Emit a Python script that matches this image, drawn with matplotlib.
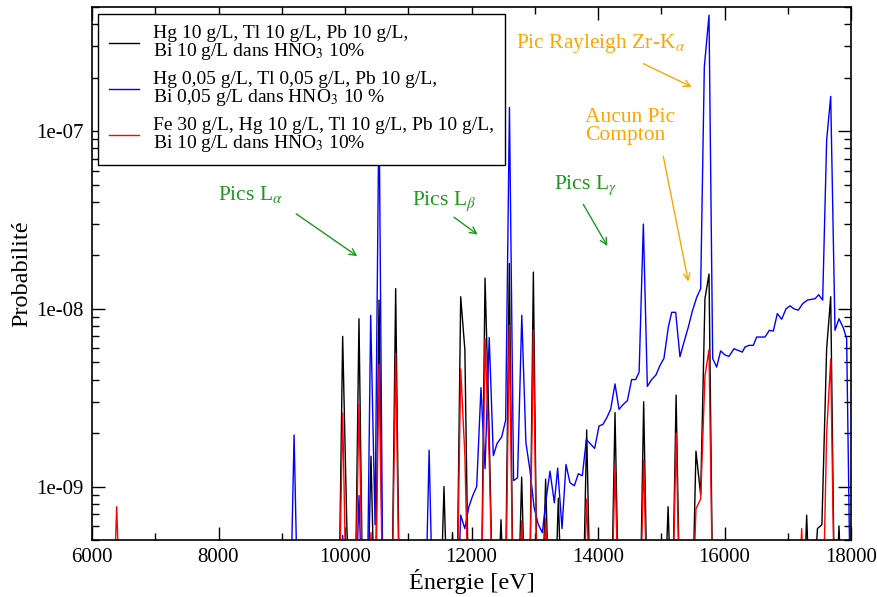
import numpy as np
import matplotlib
matplotlib.use('Agg')
import matplotlib.pyplot as plt
import matplotlib.ticker as ticker

plt.rcParams['font.family'] = 'Liberation Serif'
plt.rcParams['mathtext.fontset'] = 'stix'

# Hg 10 g/L, Tl 10 g/L, Pb 10 g/L, Bi 10 g/L (noir)
# 0 = canal sous le bas de l'axe
e_noir = [9898, 9963, 10029, 10095,
          10156, 10221, 10286,
          10346, 10411, 10475, 10538, 10603,
          10736, 10801, 10866,
          11500, 11565, 11630, 11700, 11764, 11829, 11895, 11960,
          12150, 12214, 12280, 12345,
          12400, 12466, 12530, 12598, 12663,
          12728, 12793, 12858, 12913, 12978, 13043,
          13108, 13172, 13237,
          13308, 13373, 13438,
          13756, 13821, 13886,
          14204, 14269, 14334,
          14660, 14722, 14787,
          15040, 15108, 15170, 15235, 15300,
          15484, 15549, 15623, 15691, 15755, 15820,
          17235, 17299, 17365, 17470, 17540, 17615, 17679, 17745, 17810, 17875]
p_noir = [0, 7.0e-9, 6.0e-10, 0,
          0, 8.8e-9, 0,
          0, 1.48e-9, 0, 1.12e-8, 0,
          0, 1.3e-8, 0,
          0, 1.0e-9, 0, 5.5e-10, 0, 1.17e-8, 5.9e-9, 0,
          0, 1.49e-8, 2.0e-9, 0,
          0, 6.5e-10, 0, 1.8e-8, 0,
          0, 1.13e-9, 0, 0, 1.61e-8, 0,
          0, 1.1e-9, 0,
          0, 8.6e-10, 0,
          0, 2.08e-9, 0,
          0, 2.61e-9, 0,
          0, 3.0e-9, 0,
          0, 7.7e-10, 0, 3.27e-9, 0,
          0, 1.58e-9, 9.0e-10, 1.14e-8, 1.57e-8, 0,
          0, 6.9e-10, 0, 5.8e-10, 6.1e-10, 5.96e-9, 1.17e-8, 0, 6.0e-10, 0]

# Hg 0,05 g/L, Tl 0,05 g/L, Pb 10 g/L, Bi 0,05 g/L (bleu)
e_bleu = [9130, 9195, 9260,
          9898, 9963, 10029,
          10156, 10221, 10286,
          10346, 10406, 10475, 10538, 10603,
          11265, 11330, 11395,
          11764, 11829, 11894, 11959, 12020, 12082, 12150, 12214, 12280, 12345,
          12405, 12477, 12540, 12600, 12665, 12728, 12795, 12860, 12925, 12990,
          13057, 13120, 13178, 13241, 13310, 13362, 13431, 13494, 13557, 13626,
          13689, 13752, 13816, 13884, 13947, 14016, 14079, 14142, 14200, 14269,
          14332, 14400, 14464, 14532, 14595, 14650, 14717, 14780, 14848, 14917,
          14980, 15043, 15112, 15165, 15228, 15296, 15365, 15428, 15491, 15560,
          15623, 15681, 15755, 15813, 15876, 15939, 16008, 16071, 16150, 16219,
          16282, 16324, 16387, 16456, 16509, 16572, 16640, 16709, 16772, 16835,
          16904, 16972, 17036, 17099, 17167, 17236, 17310, 17365, 17430, 17490,
          17552, 17615, 17679, 17747, 17810, 17879, 17931, 17996]
p_bleu = [0, 1.95e-9, 0,
          0, 5.3e-10, 0,
          0, 8.9e-10, 0,
          0, 9.2e-9, 6.1e-10, 1.5e-7, 0,
          0, 1.6e-9, 0,
          0, 6.9e-10, 5.8e-10, 7.7e-10, 8.9e-10, 1.0e-9, 3.6e-9, 1.26e-9, 6.9e-9, 1.49e-9,
          1.75e-9, 1.9e-9, 2.36e-9, 1.36e-7, 1.08e-9, 1.12e-9, 9.2e-9, 1.77e-9, 1.23e-9, 7.6e-10,
          6.1e-10, 5.5e-10, 8.4e-10, 1.22e-9, 8.1e-10, 1.27e-9, 5.8e-10, 1.33e-9, 1.05e-9, 1.01e-9,
          1.18e-9, 1.15e-9, 1.84e-9, 1.73e-9, 1.64e-9, 2.19e-9, 2.24e-9, 2.45e-9, 2.72e-9, 3.78e-9,
          2.72e-9, 2.9e-9, 3.04e-9, 4.0e-9, 4.0e-9, 4.4e-9, 3.0e-8, 3.66e-9, 4.0e-9, 4.25e-9,
          4.8e-9, 5.27e-9, 7.9e-9, 9.56e-9, 9.56e-9, 5.38e-9, 6.6e-9, 7.9e-9, 9.7e-9, 1.16e-8,
          1.3e-8, 2.3e-7, 4.5e-7, 5.26e-9, 4.7e-9, 5.8e-9, 5.5e-9, 5.4e-9, 5.96e-9, 5.83e-9,
          5.71e-9, 6.1e-9, 6.23e-9, 6.23e-9, 6.94e-9, 6.94e-9, 6.94e-9, 7.57e-9, 7.5e-9, 9.4e-9,
          8.74e-9, 1.0e-8, 1.04e-8, 1.0e-8, 9.83e-9, 1.07e-8, 1.12e-8, 1.13e-8, 1.14e-8, 1.2e-8,
          1.12e-8, 8.9e-8, 1.57e-7, 7.57e-9, 8.8e-9, 7.8e-9, 6.8e-9, 0]

# Fe 30 g/L + Hg, Tl, Pb, Bi 10 g/L (rouge)
e_rouge = [6325, 6390, 6455,
           9898, 9963, 10029,
           10156, 10221, 10286,
           10346, 10411, 10475, 10538, 10603,
           10736, 10801, 10866,
           11764, 11829, 11895, 11960,
           12150, 12214, 12280, 12345,
           12533, 12598, 12663,
           12728, 12793, 12858,
           12913, 12978, 13043,
           13108, 13172, 13237,
           13756, 13821, 13886,
           14204, 14269, 14334,
           14660, 14722, 14787,
           15170, 15235, 15300,
           15484, 15549, 15623, 15691, 15755, 15820,
           17155, 17220, 17285,
           17550, 17615, 17679, 17745]
p_rouge = [0, 7.7e-10, 0,
           0, 2.6e-9, 0,
           0, 2.92e-9, 0,
           0, 5.5e-10, 0, 4.9e-9, 0,
           0, 5.6e-9, 0,
           0, 4.6e-9, 1.5e-9, 0,
           0, 6.8e-9, 1.45e-9, 0,
           0, 8.1e-9, 0,
           0, 6.4e-10, 0,
           0, 7.6e-9, 0,
           0, 6.6e-10, 0,
           0, 8.5e-10, 0,
           0, 1.31e-9, 0,
           0, 1.41e-9, 0,
           0, 2.0e-9, 0,
           0, 7.5e-10, 8.5e-10, 4.2e-9, 5.9e-9, 0,
           0, 5.8e-10, 0,
           0, 2.0e-9, 5.2e-9, 0]

# niveau des canaux hors echelle (sous 5e-10)
fond = 1.5e-10

labels = ['Hg 10 g/L, Tl 10 g/L, Pb 10 g/L,\nBi 10 g/L dans HNO$_3$ 10%',
          'Hg 0,05 g/L, Tl 0,05 g/L, Pb 10 g/L,\nBi 0,05 g/L dans HNO$_3$ 10 %',
          'Fe 30 g/L, Hg 10 g/L, Tl 10 g/L, Pb 10 g/L,\nBi 10 g/L dans HNO$_3$ 10%']

vert = '#1a9a1a'
orange = '#ffa500'


def niveau(p):
    p = np.array(p, dtype=float)
    return np.where(p > 0, p, fond)


fig = plt.figure(figsize=(8.77, 5.97), dpi=100)
ax = fig.add_axes([92/877, 1 - 540/597, 759/877, 533/597])
ax.set_yscale('log', nonpositive='clip')

ax.plot(e_noir, niveau(p_noir), color='black', lw=1.0, label=labels[0])
ax.plot(e_bleu, niveau(p_bleu), color='#0000ff', lw=1.0, label=labels[1])
ax.plot(e_rouge, niveau(p_rouge), color='#ff0000', lw=1.0, label=labels[2])

ax.set_xlim(6000, 18000)
ax.set_ylim(5e-10, 5e-7)

ax.xaxis.set_major_locator(ticker.MultipleLocator(2000))
ax.xaxis.set_minor_locator(ticker.MultipleLocator(1000))
ax.yaxis.set_major_locator(ticker.LogLocator(base=10))
ax.yaxis.set_minor_locator(ticker.LogLocator(base=10, subs=np.arange(2, 10)))
ax.yaxis.set_major_formatter(ticker.FuncFormatter(lambda v, pos: '%.0e' % v))
ax.yaxis.set_minor_formatter(ticker.NullFormatter())

ax.tick_params(which='both', direction='in', top=True, right=True, width=1.0, labelsize=15)
ax.tick_params(which='major', length=9.5, pad=6)
ax.tick_params(which='minor', length=4.8)
for s in ax.spines.values():
    s.set_linewidth(1.2)

ax.set_xlabel('Énergie [eV]', fontsize=17.5, labelpad=1)
ax.set_ylabel('Probabilité', fontsize=17.5, labelpad=3)

# annotations
ax.text(0.166, 0.638, 'Pics L$_\\alpha$', color=vert, fontsize=15.5, transform=ax.transAxes)
ax.text(0.421, 0.628, 'Pics L$_\\beta$', color=vert, fontsize=15.5, transform=ax.transAxes)
ax.text(0.609, 0.658, 'Pics L$_\\gamma$', color=vert, fontsize=15.5, transform=ax.transAxes)
ax.text(0.559, 0.923, 'Pic Rayleigh Zr-K$_\\alpha$', color=orange, fontsize=15.5, transform=ax.transAxes)
ax.text(0.6495, 0.785, 'Aucun Pic', color=orange, fontsize=15.5, transform=ax.transAxes)
ax.text(0.6495, 0.750, 'Compton', color=orange, fontsize=15.5, transform=ax.transAxes)

fleches = [((0.269, 0.612), (0.3495, 0.5325), vert),
           ((0.4769, 0.6056), (0.5082, 0.573), vert),
           ((0.6473, 0.6296), (0.679, 0.5516), vert),
           ((0.7263, 0.8938), (0.7901, 0.8501), orange),
           ((0.7527, 0.7197), (0.7856, 0.485), orange)]
for debut, fin, c in fleches:
    ax.annotate('', xy=fin, xytext=debut, xycoords='axes fraction', textcoords='axes fraction',
                arrowprops=dict(arrowstyle='->', color=c, lw=1.0, shrinkA=0, shrinkB=0,
                                mutation_scale=12))

leg = ax.legend(loc='upper left', bbox_to_anchor=(6/759, 1 - 7/533), fontsize=14,
                frameon=True, fancybox=False, edgecolor='black', framealpha=1,
                handlelength=1.55, handletextpad=0.75, borderpad=0.55,
                labelspacing=0.45, borderaxespad=0)
leg.get_frame().set_linewidth(1.0)
for t in leg.get_texts():
    t.set_linespacing(0.95)
leg.set_zorder(10)

fig.savefig('out.png', dpi=100)
